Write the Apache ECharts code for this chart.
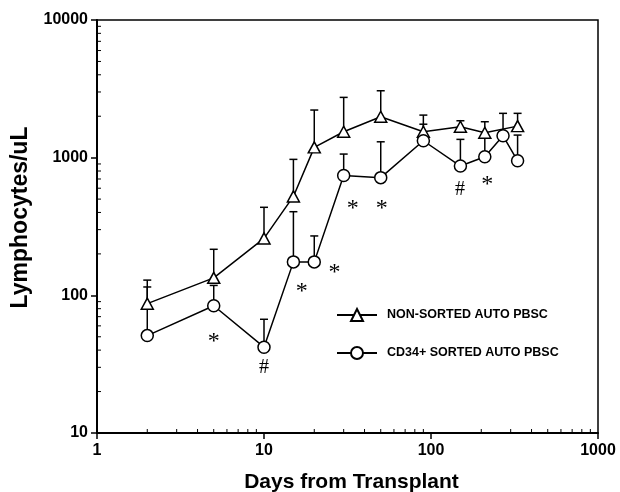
<!DOCTYPE html>
<html>
<head>
<meta charset="utf-8">
<script src="https://cdn.jsdelivr.net/npm/echarts@6/dist/echarts.min.js"></script>
<style>html,body{margin:0;padding:0;background:#fff}#c{width:620px;height:492px}</style>
</head>
<body>
<div id="c"></div>
<script>
// ---- data ----
var nonSortedDays   = [2, 5, 10, 15, 20, 30, 50, 90, 150, 210, 330];
var nonSortedValues = [87, 134, 259, 523, 1188, 1542, 1982, 1542, 1676, 1517, 1695];
var nonSortedUpper  = [129, 216, 436, 972, 2218, 2741, 3062, 2038, 1854, 1824, 2099];

var sortedDays   = [2, 5, 10, 15, 20, 30, 50, 90, 150, 210, 270, 330];
var sortedValues = [51, 84, 42, 175, 175, 742, 716, 1327, 869, 1016, 1442, 949];
var sortedUpper  = [115, 118, 67, 405, 270, 1062, 1304, 1750, 1358, 1400, 2099, 1459];

var annotationX    = [5, 10, 16.8, 26.4, 34, 50.7, 149, 217];
var annotationY    = [50, 29.6, 115, 160, 460, 460, 582, 688];
var annotationText = ['*', '#', '*', '*', '*', '*', '#', '*'];

var xTickLabels = ['1', '10', '100', '1000'];
var yTickLabels = ['10', '100', '1000', '10000'];
var xMinorTicks = [2,3,4,5,6,7,8,9,20,30,40,50,60,70,80,90,200,300,400,500,600,700,800,900];
var yMinorTicks = [20,30,40,50,60,70,80,90,200,300,400,500,600,700,800,900,2000,3000,4000,5000,6000,7000,8000,9000];

var seriesNames = ['NON-SORTED AUTO PBSC', 'CD34+ SORTED AUTO PBSC'];
var xName = 'Days from Transplant';
var yName = 'Lymphocytes/uL';

// ---- build ----
function pairs(xs, ys) { return xs.map(function (x, i) { return [x, ys[i]]; }); }
function triples(xs, ys, us) {
  var out = [];
  xs.forEach(function (x, i) { if (us[i] != null) out.push([x, ys[i], us[i]]); });
  return out;
}
var X_MIN = 1, X_MAX = 1000, Y_MIN = 10, Y_MAX = 10000;
var FONT = '"Liberation Sans", Arial, Helvetica, sans-serif';

function errRender(params, api) {
  var p = api.coord([api.value(0), api.value(1)]);
  var t = api.coord([api.value(0), api.value(2)]);
  var st = { stroke: '#000', lineWidth: 1.5 };
  return {
    type: 'group',
    children: [
      { type: 'line', shape: { x1: p[0], y1: p[1], x2: t[0], y2: t[1] }, style: st },
      { type: 'line', shape: { x1: t[0] - 4, y1: t[1], x2: t[0] + 4, y2: t[1] }, style: st }
    ]
  };
}

var chart = echarts.init(document.getElementById('c'), null, { renderer: 'canvas' });
var option = {
  animation: false,
  backgroundColor: '#fff',
  grid: { left: 97, right: 22, top: 20, bottom: 59, containLabel: false, outerBoundsMode: 'none',
          show: true, borderColor: '#000', borderWidth: 1.5, backgroundColor: 'transparent' },
  legend: {
    orient: 'vertical', left: 336, top: 308, padding: 0, itemWidth: 40, itemHeight: 15, itemGap: 24,
    data: seriesNames,
    textStyle: { fontFamily: FONT, fontWeight: 'bold', fontSize: 12.5, color: '#000', padding: [0, 0, 0, 5] }
  },
  xAxis: {
    type: 'log', logBase: 10, min: X_MIN, max: X_MAX,
    name: xName, nameLocation: 'middle', nameGap: 39,
    nameTextStyle: { fontFamily: FONT, fontWeight: 'bold', fontSize: 21, color: '#000', padding: [0, 0, 0, 8] },
    axisLine: { lineStyle: { color: '#000', width: 2 } },
    axisTick: { show: true, inside: false, length: 6, lineStyle: { color: '#000', width: 1.5 } },
    splitLine: { show: false },
    axisLabel: { fontFamily: FONT, fontWeight: 'bold', fontSize: 16, color: '#000', margin: 10,
      formatter: function (v) { var i = Math.round(Math.log10(v)); return xTickLabels[i] || ''; } }
  },
  yAxis: {
    type: 'log', logBase: 10, min: Y_MIN, max: Y_MAX,
    name: yName, nameLocation: 'middle', nameGap: 59, nameRotate: 90,
    nameTextStyle: { fontFamily: FONT, fontWeight: 'bold', fontSize: 23, color: '#000', padding: [0, 0, 0, 18] },
    axisLine: { lineStyle: { color: '#000', width: 2 } },
    axisTick: { show: true, inside: false, length: 6, lineStyle: { color: '#000', width: 1.5 } },
    splitLine: { show: false },
    axisLabel: { fontFamily: FONT, fontWeight: 'bold', fontSize: 16, color: '#000', margin: 9,
      formatter: function (v) { var i = Math.round(Math.log10(v)) - 1; return yTickLabels[i] || ''; } }
  },
  series: [
    {
      type: 'custom', name: 'xminor', silent: true, z: 1,
      data: xMinorTicks.map(function (v) { return [v, Y_MIN]; }),
      encode: { x: 0, y: 1 },
      renderItem: function (params, api) {
        var p = api.coord([api.value(0), api.value(1)]);
        return { type: 'line', shape: { x1: p[0], y1: p[1], x2: p[0], y2: p[1] - 4 }, style: { stroke: '#000', lineWidth: 1 } };
      }
    },
    {
      type: 'custom', name: 'yminor', silent: true, z: 1,
      data: yMinorTicks.map(function (v) { return [X_MIN, v]; }),
      encode: { x: 0, y: 1 },
      renderItem: function (params, api) {
        var p = api.coord([api.value(0), api.value(1)]);
        return { type: 'line', shape: { x1: p[0], y1: p[1], x2: p[0] + 4, y2: p[1] }, style: { stroke: '#000', lineWidth: 1 } };
      }
    },
    {
      type: 'custom', name: 'errNon', silent: true, z: 2,
      data: triples(nonSortedDays, nonSortedValues, nonSortedUpper),
      encode: { x: 0, y: [1, 2] },
      renderItem: errRender
    },
    {
      type: 'custom', name: 'errSorted', silent: true, z: 2,
      data: triples(sortedDays, sortedValues, sortedUpper),
      encode: { x: 0, y: [1, 2] },
      renderItem: errRender
    },
    {
      type: 'line', name: seriesNames[0], z: 3,
      data: pairs(nonSortedDays, nonSortedValues),
      symbol: 'triangle', symbolSize: [12, 11], showAllSymbol: true,
      lineStyle: { color: '#000', width: 1.5 },
      itemStyle: { color: '#fff', borderColor: '#000', borderWidth: 1.5 },
      emphasis: { disabled: true }
    },
    {
      type: 'line', name: seriesNames[1], z: 4,
      data: pairs(sortedDays, sortedValues),
      symbol: 'circle', symbolSize: 12, showAllSymbol: true,
      lineStyle: { color: '#000', width: 1.5 },
      itemStyle: { color: '#fff', borderColor: '#000', borderWidth: 1.5 },
      emphasis: { disabled: true }
    },
    {
      type: 'custom', name: 'annotations', silent: true, z: 5,
      data: annotationX.map(function (x, i) { return [x, annotationY[i], i]; }),
      encode: { x: 0, y: 1 },
      renderItem: function (params, api) {
        var p = api.coord([api.value(0), api.value(1)]);
        var txt = annotationText[api.value(2)];
        var isStar = txt === '*';
        return {
          type: 'text',
          style: {
            x: p[0], y: p[1] + (isStar ? 5 : 0), text: txt,
            align: 'center', verticalAlign: 'middle',
            fill: '#000',
            font: (isStar ? '24px' : '20px') + ' "Liberation Serif", "Times New Roman", serif'
          }
        };
      }
    }
  ]
};
chart.setOption(option);
</script>
</body>
</html>
